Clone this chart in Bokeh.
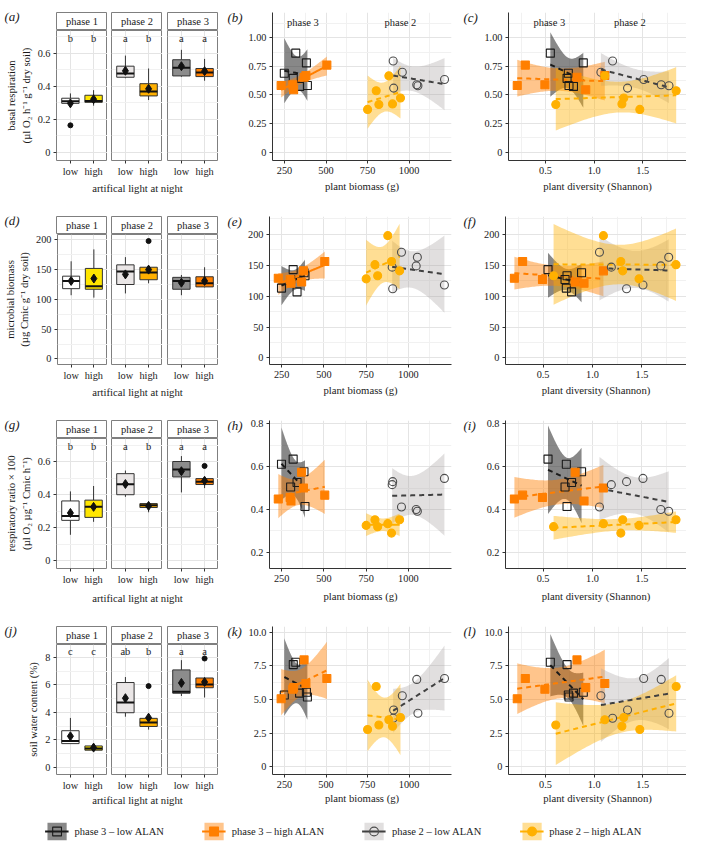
import numpy as np
from bokeh.plotting import figure
from bokeh.layouts import row, column
from bokeh.models import Range1d, FixedTicker, Legend, LegendItem, Spacer
from bokeh.core.properties import value
from bokeh.embed import file_html
from bokeh.resources import INLINE

FONT = "Liberation Serif"
TXT = "#1a1a1a"
AX = "#333333"

# ---------------- box-plot statistics (order: p1 low, p1 high, p2 low, p2 high, p3 low, p3 high)
resp_q1 = [0.297, 0.303, 0.455, 0.342, 0.463, 0.459]
resp_med = [0.309, 0.311, 0.478, 0.368, 0.512, 0.483]
resp_q3 = [0.328, 0.346, 0.522, 0.416, 0.561, 0.508]
resp_lo = [0.290, 0.283, 0.449, 0.317, 0.458, 0.434]
resp_hi = [0.357, 0.377, 0.586, 0.508, 0.621, 0.566]
resp_mean = [0.297, 0.322, 0.494, 0.385, 0.522, 0.492]
resp_out = [[0.164], [], [], [], [], []]
resp_letters = ["b", "b", "a", "b", "a", "a"]

micro_q1 = [118, 117, 125, 133, 117, 121]
micro_med = [131, 122, 147, 145, 131, 127]
micro_q3 = [139, 152, 158, 154, 137, 138]
micro_lo = [107, 103, 110, 127, 107, 120]
micro_hi = [164, 184, 171, 156, 141, 154]
micro_mean = [131, 135, 142, 150, 128, 131]
micro_out = [[], [], [], [198], [], []]
micro_letters = None

ratio_q1 = [0.244, 0.262, 0.400, 0.322, 0.508, 0.462]
ratio_med = [0.270, 0.326, 0.463, 0.336, 0.553, 0.479]
ratio_q3 = [0.362, 0.367, 0.528, 0.346, 0.602, 0.498]
ratio_lo = [0.156, 0.235, 0.387, 0.293, 0.414, 0.440]
ratio_hi = [0.420, 0.453, 0.547, 0.346, 0.635, 0.498]
ratio_mean = [0.289, 0.326, 0.465, 0.332, 0.543, 0.485]
ratio_out = [[], [], [], [], [], [0.575]]
ratio_letters = ["b", "b", "a", "b", "a", "a"]

water_q1 = [1.73, 1.25, 3.98, 2.98, 5.40, 5.80]
water_med = [1.92, 1.37, 4.73, 3.27, 5.51, 6.04]
water_q3 = [2.67, 1.56, 6.18, 3.57, 7.10, 6.51]
water_lo = [1.73, 1.18, 3.69, 2.75, 5.20, 5.09]
water_hi = [3.60, 1.56, 6.58, 3.57, 7.81, 6.51]
water_mean = [2.27, 1.44, 5.04, 3.62, 6.15, 6.22]
water_out = [[], [], [], [5.92], [], [7.93]]
water_letters = ["c", "c", "ab", "b", "a", "a"]

# ---------------- plot-level samples per group
p3low_biomass = [249, 318, 303, 382, 341, 388]
p3low_diversity = [0.735, 0.55, 0.722, 0.889, 0.788, 0.742]
p3low_resp = [0.69, 0.865, 0.645, 0.78, 0.575, 0.583]
p3low_micro = [113, 143, 127, 138, 107, 133]
p3low_ratio = [0.611, 0.635, 0.505, 0.576, 0.526, 0.414]
p3low_water = [5.34, 7.78, 7.60, 5.55, 5.48, 5.19]

p3high_biomass = [230, 505, 300, 368, 305, 379]
p3high_diversity = [0.21, 0.293, 0.494, 0.824, 0.914, 1.11]
p3high_resp = [0.583, 0.761, 0.589, 0.655, 0.546, 0.67]
p3high_micro = [129, 156, 127, 123, 121, 141]
p3high_ratio = [0.449, 0.467, 0.456, 0.574, 0.44, 0.50]
p3high_water = [5.07, 6.57, 5.77, 7.95, 5.89, 6.20]

p2low_biomass = [904, 959, 907, 1213, 1046, 1053]
p2low_diversity = [1.19, 1.07, 1.344, 1.51, 1.69, 1.77]
p2low_resp = [0.796, 0.698, 0.56, 0.635, 0.589, 0.58]
p2low_micro = [147, 171, 112, 118, 149, 163]
p2low_ratio = [0.516, 0.412, 0.53, 0.545, 0.40, 0.392]
p2low_water = [3.62, 5.29, 4.23, 6.57, 6.50, 3.99]

p2high_biomass = [750, 802, 818, 878, 900, 948]
p2high_diversity = [1.47, 1.844, 0.606, 1.11, 1.286, 1.305]
p2high_resp = [0.374, 0.537, 0.417, 0.667, 0.422, 0.474]
p2high_micro = [128, 151, 133, 198, 156, 141]
p2high_ratio = [0.326, 0.352, 0.32, 0.334, 0.29, 0.352]
p2high_water = [2.78, 5.97, 3.12, 3.50, 3.02, 3.67]

facet_names = ["phase 1", "phase 2", "phase 3"]
panel_tags = ["(a)", "(b)", "(c)", "(d)", "(e)", "(f)", "(g)", "(h)", "(i)", "(j)", "(k)", "(l)"]
group_labels = ["phase 3 \u2013 low ALAN", "phase 3 \u2013 high ALAN",
                "phase 2 \u2013 low ALAN", "phase 2 \u2013 high ALAN"]
y_titles = ["basal respiration\n(\u00b5l O\u2082 h\u207b\u00b9 g\u207b\u00b9 dry soil)",
            "microbial biomass\n(\u00b5g Cmic g\u207b\u00b9 dry soil)",
            "respiratory ratio \u00d7 100\n(\u00b5l O\u2082 \u00b5g\u207b\u00b9 Cmic h\u207b\u00b9)",
            "soil water content (%)"]

# ---------------- tables built from the arrays
BOX = [
    (resp_q1, resp_med, resp_q3, resp_lo, resp_hi, resp_mean, resp_out, resp_letters),
    (micro_q1, micro_med, micro_q3, micro_lo, micro_hi, micro_mean, micro_out, micro_letters),
    (ratio_q1, ratio_med, ratio_q3, ratio_lo, ratio_hi, ratio_mean, ratio_out, ratio_letters),
    (water_q1, water_med, water_q3, water_lo, water_hi, water_mean, water_out, water_letters),
]
GROUPS = [
    dict(biomass=p3low_biomass, diversity=p3low_diversity, y=[p3low_resp, p3low_micro, p3low_ratio, p3low_water]),
    dict(biomass=p3high_biomass, diversity=p3high_diversity, y=[p3high_resp, p3high_micro, p3high_ratio, p3high_water]),
    dict(biomass=p2low_biomass, diversity=p2low_diversity, y=[p2low_resp, p2low_micro, p2low_ratio, p2low_water]),
    dict(biomass=p2high_biomass, diversity=p2high_diversity, y=[p2high_resp, p2high_micro, p2high_ratio, p2high_water]),
]

# ---------------- styles
BOX_FILL = ["#FFFFFF", "#FFE600", "#EAE6E6", "#FFB000", "#8C8C8C", "#FF7F00"]
MARKER = ["square", "square", "circle", "circle"]
PT_FILL = [None, "#FF7F00", None, "#FFB000"]
PT_LINE = ["#1a1a1a", "#FF7F00", "#4d4d4d", "#FFB000"]
LINE_COL = ["#1a1a1a", "#FF7F00", "#404040", "#FFB000"]
BAND_COL = ["#262626", "#FF7F00", "#A8A2A2", "#FFB000"]
BAND_A = [0.55, 0.45, 0.35, 0.42]
SOLID = {  # per row, biomass panels (p3low, p3high, p2low, p2high)
    ("biomass", 0): [False, True, False, False],
    ("biomass", 1): [True, True, False, False],
    ("biomass", 2): [False, False, False, True],
    ("biomass", 3): [False, False, False, False],
}

ROW_H = [204, 204, 206, 202]
BOX_YLIM = [(-0.049, 0.738), (-9.4, 209), (-0.049, 0.742), (-0.52, 8.95)]
BOX_TICKS = [([0, 0.2, 0.4, 0.6], [0.1, 0.3, 0.5, 0.7]),
             ([0, 50, 100, 150, 200], [25, 75, 125, 175]),
             ([0, 0.2, 0.4, 0.6], [0.1, 0.3, 0.5, 0.7]),
             ([0, 2, 4, 6, 8], [1, 3, 5, 7])]
LET_Y = [0.69, None, 0.694, 8.47]
SC_YLIM = [(-0.072, 1.22), (-10.7, 229), (0.125, 0.815), (-0.56, 10.43)]
SC_TICKS = [([0, 0.25, 0.5, 0.75, 1.0], [0.125, 0.375, 0.625, 0.875, 1.125]),
            ([0, 50, 100, 150, 200], [25, 75, 125, 175, 225]),
            ([0.2, 0.4, 0.6, 0.8], [0.3, 0.5, 0.7]),
            ([0, 2.5, 5.0, 7.5, 10.0], [1.25, 3.75, 6.25, 8.75])]
SC_LABELS = [["0", "0.25", "0.50", "0.75", "1.00"], ["0", "50", "100", "150", "200"],
             ["0.2", "0.4", "0.6", "0.8"], ["0", "2.5", "5.0", "7.5", "10.0"]]
BOX_LABELS = [["0", "0.2", "0.4", "0.6"], ["0", "50", "100", "150", "200"],
              ["0", "0.2", "0.4", "0.6"], ["0", "2", "4", "6", "8"]]
XR = dict(biomass=(178, 1255), diversity=(0.12, 1.95))
XT = dict(biomass=([250, 500, 750, 1000], [375, 625, 875, 1125], ["250", "500", "750", "1000"]),
          diversity=([0.5, 1.0, 1.5], [0.25, 0.75, 1.25, 1.75], ["0.5", "1.0", "1.5"]))
XTITLE = dict(biomass="plant biomass (g)", diversity="plant diversity (Shannon)")
T975 = 2.776  # t quantile, df = n - 2 = 4

FACET_W = [107, 55, 56]
FACET_L = [56, 4, 5]
STRIP_W = [51, 55, 56]
STRIP_L = [0, 4, 5]
TAG_W = 25
TICK_FS = "10.3px"
TITLE_FS = "10.7px"
TAG_FS = "13px"


def base_fig(**kw):
    return figure(toolbar_location=None, output_backend="svg", **kw)


def blank_fig(w, h, xr, yr, **kw):
    p = base_fig(width=w, height=h, x_range=Range1d(*xr), y_range=Range1d(*yr),
                 x_axis_location=None, y_axis_location=None, min_border=0,
                 outline_line_color=None, **kw)
    p.grid.visible = False
    return p


def tag_fig(w, h, x, tag):
    p = blank_fig(w, h, (0, w), (h, 0))
    p.text(x=[x], y=[7], text=[tag], text_align="left", text_baseline="middle",
           text_font=value(FONT), text_font_size=TAG_FS, text_font_style="italic",
           text_color=TXT)
    return p


def style_axis(ax):
    ax.major_label_text_font = FONT
    ax.major_label_text_font_size = TICK_FS
    ax.major_label_text_color = TXT
    ax.axis_label_text_font = FONT
    ax.axis_label_text_font_size = TITLE_FS
    ax.axis_label_text_font_style = "normal"
    ax.axis_label_text_color = TXT
    ax.major_tick_line_color = AX
    ax.major_tick_in = 0
    ax.major_tick_out = 3
    ax.minor_tick_line_color = None
    ax.major_label_standoff = 2
    ax.axis_label_standoff = 3


def style_grid(p):
    p.xgrid.grid_line_color = "#e4e4e4"
    p.ygrid.grid_line_color = "#e4e4e4"
    p.xgrid.minor_grid_line_color = "#f1f1f1"
    p.ygrid.minor_grid_line_color = "#f1f1f1"


def fit(x, y):
    x = np.asarray(x, float)
    y = np.asarray(y, float)
    n = len(x)
    xb = x.mean()
    sxx = ((x - xb) ** 2).sum()
    b = ((x - xb) * (y - y.mean())).sum() / sxx
    a = y.mean() - b * xb
    s = np.sqrt(((y - a - b * x) ** 2).sum() / (n - 2))
    xs = np.linspace(x.min(), x.max(), 60)
    yh = a + b * xs
    se = s * np.sqrt(1.0 / n + (xs - xb) ** 2 / sxx)
    return xs, yh, yh - T975 * se, yh + T975 * se


def box_facet(r, ph):
    q1, med, q3, lo, hi, mean, outs, letters = BOX[r]
    idx = [2 * ph, 2 * ph + 1]
    xs = [1, 2]
    p = base_fig(width=FACET_W[ph], height=150, x_range=Range1d(0.4, 2.6),
                 y_range=Range1d(*BOX_YLIM[r]),
                 min_border_left=FACET_L[ph], min_border_right=0, min_border_top=0,
                 min_border_bottom=20, outline_line_color="#7f7f7f", outline_line_width=1)
    yt, ym = BOX_TICKS[r]
    p.yaxis.ticker = FixedTicker(ticks=yt, minor_ticks=ym)
    p.ygrid.ticker = FixedTicker(ticks=yt, minor_ticks=ym)
    p.yaxis.major_label_overrides = {t: l for t, l in zip(yt, BOX_LABELS[r])}
    p.xaxis.ticker = FixedTicker(ticks=[1, 2])
    p.xgrid.ticker = FixedTicker(ticks=[1, 2])
    p.xaxis.major_label_overrides = {1: "low", 2: "high"}
    style_axis(p.xaxis)
    style_axis(p.yaxis)
    p.xaxis.axis_line_color = None
    p.yaxis.axis_line_color = None
    style_grid(p)
    p.xgrid.minor_grid_line_color = None
    if ph == 0:
        p.yaxis.axis_label = y_titles[r]
    else:
        p.yaxis.visible = False
    p.segment(x0=xs, x1=xs, y0=[q3[i] for i in idx], y1=[hi[i] for i in idx],
              line_color=AX, line_width=1)
    p.segment(x0=xs, x1=xs, y0=[q1[i] for i in idx], y1=[lo[i] for i in idx],
              line_color=AX, line_width=1)
    p.vbar(x=xs, width=0.75, bottom=[q1[i] for i in idx], top=[q3[i] for i in idx],
           fill_color=[BOX_FILL[i] for i in idx], line_color=AX, line_width=1)
    p.segment(x0=[x - 0.375 for x in xs], x1=[x + 0.375 for x in xs],
              y0=[med[i] for i in idx], y1=[med[i] for i in idx],
              line_color="#111111", line_width=2)
    ox, oy = [], []
    for x, i in zip(xs, idx):
        for v in outs[i]:
            ox.append(x)
            oy.append(v)
    if ox:
        p.scatter(x=ox, y=oy, marker="circle", size=5, color="#111111")
    p.scatter(x=xs, y=[mean[i] for i in idx], marker="diamond", size=9, color="#111111")
    if letters is not None:
        p.text(x=xs, y=[LET_Y[r]] * 2, text=[letters[i] for i in idx],
               text_align="center", text_baseline="middle", text_font=value(FONT),
               text_font_size="10.5px", text_color=TXT)
    return p


def strip(ph):
    p = base_fig(width=STRIP_W[ph], height=30, x_range=Range1d(0, 1), y_range=Range1d(0, 1),
                 x_axis_location=None, y_axis_location=None,
                 min_border_left=STRIP_L[ph], min_border_right=0, min_border_top=12,
                 min_border_bottom=0, outline_line_color="#7f7f7f", outline_line_width=1,
                 background_fill_color="#ffffff")
    p.grid.visible = False
    p.text(x=[0.5], y=[0.5], text=[facet_names[ph]], text_align="center",
           text_baseline="middle", text_font=value(FONT), text_font_size="10.5px",
           text_color=TXT)
    return p


def box_group(r):
    lab = tag_fig(56, 30, 4, panel_tags[3 * r])
    top = row(lab, strip(0), strip(1), strip(2), Spacer(width=2, height=30))
    facets = row(box_facet(r, 0), box_facet(r, 1), box_facet(r, 2), Spacer(width=2, height=150))
    th = ROW_H[r] - 180
    tf = blank_fig(220, th, (0, 220), (th, 0))
    tf.text(x=[137], y=[1 + (ROW_H[r] - 204)], text=["artifical light at night"],
            text_align="center", text_baseline="top", text_font=value(FONT),
            text_font_size=TITLE_FS, text_color=TXT)
    return column(top, facets, tf)


def scatter_cell(r, xkind, w, left, right, tag):
    H = ROW_H[r]
    tg = tag_fig(TAG_W, H, 7, tag)
    p = base_fig(width=w - TAG_W, height=H, x_range=Range1d(*XR[xkind]),
                 y_range=Range1d(*SC_YLIM[r]),
                 min_border_left=left - TAG_W, min_border_right=right, min_border_top=12,
                 min_border_bottom=H - 160, outline_line_color=None)
    xt, xm, xl = XT[xkind]
    yt, ym = SC_TICKS[r]
    p.xaxis.ticker = FixedTicker(ticks=xt, minor_ticks=xm)
    p.xgrid.ticker = FixedTicker(ticks=xt, minor_ticks=xm)
    p.yaxis.ticker = FixedTicker(ticks=yt, minor_ticks=ym)
    p.ygrid.ticker = FixedTicker(ticks=yt, minor_ticks=ym)
    p.xaxis.major_label_overrides = {t: l for t, l in zip(xt, xl)}
    p.yaxis.major_label_overrides = {t: l for t, l in zip(yt, SC_LABELS[r])}
    style_axis(p.xaxis)
    style_axis(p.yaxis)
    p.xaxis.axis_line_color = AX
    p.yaxis.axis_line_color = AX
    p.xaxis.axis_label = XTITLE[xkind]
    p.xaxis.axis_label_standoff = 3 + (ROW_H[r] - 204)
    style_grid(p)
    solid = SOLID.get((xkind, r), [False] * 4)
    fits = []
    for gi, g in enumerate(GROUPS):
        fits.append(fit(g[xkind], g["y"][r]))
    for gi, (xs, yh, lo, hi) in enumerate(fits):
        p.varea(x=xs, y1=lo, y2=hi, fill_color=BAND_COL[gi], fill_alpha=BAND_A[gi])
    for gi, (xs, yh, lo, hi) in enumerate(fits):
        p.line(x=xs, y=yh, line_color=LINE_COL[gi], line_width=2,
               line_dash="solid" if solid[gi] else "5 4")
    for gi, g in enumerate(GROUPS):
        p.scatter(x=g[xkind], y=g["y"][r], marker=MARKER[gi], size=8,
                  fill_color=PT_FILL[gi], line_color=PT_LINE[gi], line_width=1.1)
    if r == 0:
        if xkind == "biomass":
            px = [361, 948]
        else:
            px = [0.54, 1.367]
        p.text(x=px, y=[1.13, 1.13], text=["phase 3", "phase 2"], text_align="center",
               text_baseline="middle", text_font=value(FONT), text_font_size="10.5px",
               text_color=TXT)
    return row(tg, p)


rows = []
for r in range(4):
    rows.append(row(box_group(r),
                    scatter_cell(r, "biomass", 236, 49, 5, panel_tags[3 * r + 1]),
                    scatter_cell(r, "diversity", 230, 49, 0, panel_tags[3 * r + 2])))

# legend strip: renderers hold a key sample kept outside the visible range
leg = blank_fig(686, 30, (0, 1), (0, 1))
key_x = [5, 6]
key_lo = [0, 0]
key_hi = [1, 1]
items = []
for gi in range(4):
    va = leg.varea(x=key_x, y1=key_lo, y2=key_hi, fill_color=BAND_COL[gi], fill_alpha=BAND_A[gi])
    ln = leg.line(x=key_x, y=key_hi, line_color=LINE_COL[gi], line_width=2)
    sc = leg.scatter(x=key_x, y=key_hi, marker=MARKER[gi], size=8, fill_color=PT_FILL[gi],
                     line_color=PT_LINE[gi], line_width=1.1)
    items.append(LegendItem(label=group_labels[gi], renderers=[va, ln, sc]))
legend = Legend(items=items, orientation="horizontal", location="center",
                border_line_color=None, background_fill_alpha=0, padding=0, margin=0,
                glyph_width=24, glyph_height=22, label_standoff=6, spacing=38,
                label_text_font=FONT, label_text_font_size="10.5px", label_text_color=TXT)
leg.add_layout(legend, "center")

layout = column(*rows, leg)
open("out.html", "w").write(file_html(layout, INLINE))
